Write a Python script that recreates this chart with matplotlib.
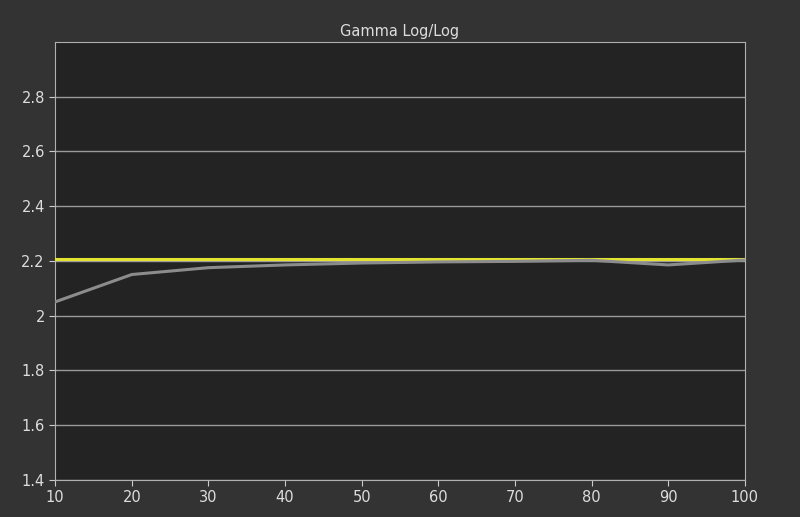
import matplotlib
matplotlib.use("Agg")
import matplotlib.pyplot as plt

levels = [10, 20, 30, 40, 50, 60, 70, 80, 90, 100]
measured = [2.05, 2.15, 2.175, 2.185, 2.192, 2.196, 2.198, 2.202, 2.185, 2.203]
target_gamma = 2.205

fig = plt.figure(figsize=(8, 5.17), dpi=100, facecolor="#333333")
ax = fig.add_axes([0.069, 0.072, 0.862, 0.847])
ax.set_facecolor("#232323")

ax.plot(levels, [target_gamma] * len(levels), color="#e3e332", linewidth=2.2, zorder=3)
ax.plot(levels, measured, color="#8c8c8c", linewidth=2.2, zorder=4)

ax.set_xlim(10, 100)
ax.set_ylim(1.4, 3.0)
ax.set_xticks(range(10, 101, 10))
ax.set_yticks([1.4, 1.6, 1.8, 2.0, 2.2, 2.4, 2.6, 2.8])
ax.set_yticklabels(["1.4", "1.6", "1.8", "2", "2.2", "2.4", "2.6", "2.8"])
ax.grid(axis="y", color="#9a9a9a", linewidth=1)
ax.tick_params(colors="#cccccc", labelcolor="#dddddd", labelsize=10.5, direction="out", length=4)
for s in ax.spines.values():
    s.set_color("#b0b0b0")
ax.set_title("Gamma Log/Log", color="#dddddd", fontsize=10.5, pad=4)

fig.savefig("out.png", dpi=100, facecolor=fig.get_facecolor())
